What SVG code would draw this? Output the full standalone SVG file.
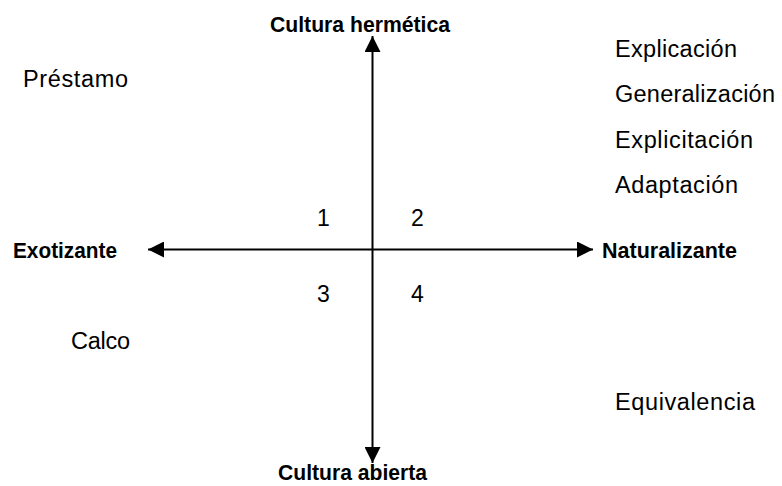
<svg xmlns="http://www.w3.org/2000/svg" width="782" height="486" viewBox="0 0 782 486">
<defs>
<style>
.axis{stroke:#000;stroke-width:2;fill:none}
.lbl{font-family:"Liberation Sans",Arial,sans-serif;font-size:22.5px;font-weight:bold;fill:#000}
.txt{font-family:"Liberation Sans",Arial,sans-serif;font-size:23.5px;fill:#000}
.num{font-family:"Liberation Sans",Arial,sans-serif;font-size:23px;fill:#000}
</style>
<marker id="ah" markerUnits="userSpaceOnUse" markerWidth="16" markerHeight="16" viewBox="0 0 14 14" refX="14" refY="7" orient="auto">
<path d="M0,0 L14,7 L0,14 Z" fill="#000"/>
</marker>
</defs>
<rect width="782" height="486" fill="#fff"/>
<g id="connectors">
<line class="axis" x1="372.5" y1="249.5" x2="372.5" y2="36" marker-end="url(#ah)"/>
<line class="axis" x1="372.5" y1="249.5" x2="372.5" y2="463" marker-end="url(#ah)"/>
<line class="axis" x1="372.5" y1="249.5" x2="148" y2="249.5" marker-end="url(#ah)"/>
<line class="axis" x1="372.5" y1="249.5" x2="593" y2="249.5" marker-end="url(#ah)"/>
</g>
<g id="cultura-hermetica"><text class="lbl" x="270" y="32" textLength="180" lengthAdjust="spacingAndGlyphs">Cultura hermética</text></g>
<g id="cultura-abierta"><text class="lbl" x="278" y="480" textLength="149" lengthAdjust="spacingAndGlyphs">Cultura abierta</text></g>
<g id="exotizante"><text class="lbl" x="13" y="258" textLength="104" lengthAdjust="spacingAndGlyphs">Exotizante</text></g>
<g id="naturalizante"><text class="lbl" x="602" y="258" textLength="135" lengthAdjust="spacingAndGlyphs">Naturalizante</text></g>
<g id="q1">
<text class="num" x="317" y="226">1</text>
<text class="txt" x="23" y="87" textLength="105">Préstamo</text>
</g>
<g id="q2">
<text class="num" x="411" y="226">2</text>
<text class="txt" x="615" y="57" textLength="122">Explicación</text>
<text class="txt" x="615" y="102" textLength="160">Generalización</text>
<text class="txt" x="615" y="148" textLength="138">Explicitación</text>
<text class="txt" x="615" y="193" textLength="123">Adaptación</text>
</g>
<g id="q3">
<text class="num" x="317" y="302">3</text>
<text class="txt" x="71" y="349" textLength="59">Calco</text>
</g>
<g id="q4">
<text class="num" x="411" y="302">4</text>
<text class="txt" x="615" y="410" textLength="140">Equivalencia</text>
</g>
</svg>
